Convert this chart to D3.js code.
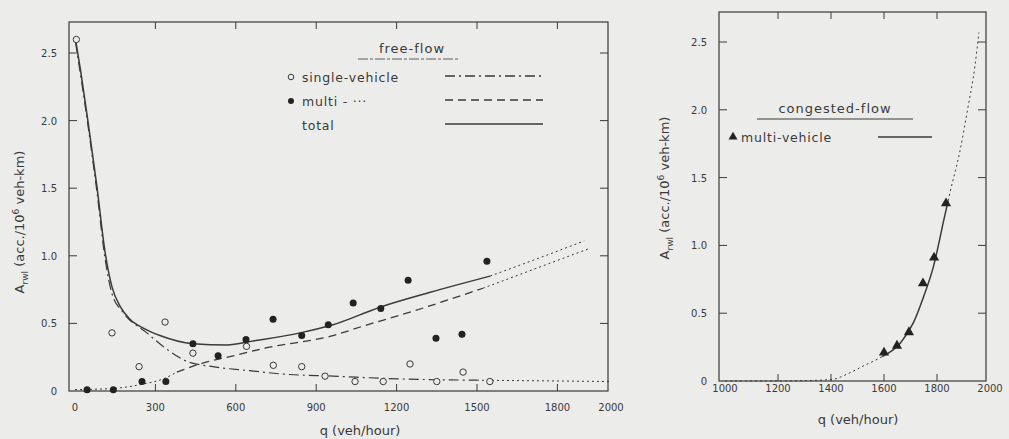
<!DOCTYPE html>
<html>
<head>
<meta charset="utf-8">
<script src="https://cdn.jsdelivr.net/npm/d3@7"></script>
<style>
  body { margin: 0; background: #ececea; }
  svg { display: block; }
  text { font-family: "DejaVu Sans", sans-serif; fill: #3a3a3a; }
</style>
</head>
<body>
<svg id="chart" width="1009" height="439"></svg>
<script>
// free-flow panel data (q in veh/hour, A in acc./10^6 veh-km)
const singleQ = [5, 138, 336, 239, 440, 640, 740, 846, 933, 1045, 1150, 1250, 1350, 1448, 1548];
const singleA = [2.60, 0.43, 0.51, 0.18, 0.28, 0.33, 0.19, 0.18, 0.11, 0.07, 0.07, 0.20, 0.07, 0.14, 0.07];
const multiQ = [45, 143, 250, 339, 440, 534, 638, 739, 846, 945, 1038, 1141, 1243, 1347, 1444, 1537];
const multiA = [0.01, 0.01, 0.07, 0.07, 0.35, 0.26, 0.38, 0.53, 0.41, 0.49, 0.65, 0.61, 0.82, 0.39, 0.42, 0.96];

// fitted curves (solid/dashed part, then dotted extrapolation)
const totalFitQ = [2, 20, 48, 82, 112, 138, 170, 205, 260, 317, 440, 567, 665, 840, 963, 1138, 1325, 1549];
const totalFitA = [2.60, 2.38, 2.00, 1.51, 1.03, 0.77, 0.62, 0.53, 0.46, 0.41, 0.35, 0.34, 0.37, 0.43, 0.49, 0.62, 0.73, 0.85];
const totalExtQ = [1549, 1700, 1900];
const totalExtA = [0.85, 0.96, 1.11];
const singleFitQ = [2, 48, 82, 112, 138, 180, 268, 342, 417, 515, 653, 777, 963, 1200, 1500];
const singleFitA = [2.58, 1.97, 1.47, 0.98, 0.72, 0.58, 0.43, 0.31, 0.22, 0.18, 0.15, 0.125, 0.11, 0.09, 0.08];
const singleExtQ = [1500, 2000];
const singleExtA = [0.08, 0.07];
const multiLowQ = [0, 150, 250, 330, 380];
const multiLowA = [0.01, 0.02, 0.05, 0.09, 0.14];
const multiFitQ = [380, 466, 590, 716, 963, 1075, 1261, 1522];
const multiFitA = [0.14, 0.20, 0.26, 0.32, 0.41, 0.48, 0.59, 0.76];
const multiExtQ = [1522, 1914];
const multiExtA = [0.76, 1.05];

// congested-flow panel data
const congQ = [1600, 1649, 1694, 1747, 1789, 1834];
const congA = [0.21, 0.26, 0.36, 0.72, 0.91, 1.31];
const congFitQ = [1593, 1662, 1711, 1749, 1786, 1826, 1842];
const congFitA = [0.18, 0.28, 0.43, 0.62, 0.84, 1.19, 1.33];
const congLowQ = [1000, 1200, 1400, 1460, 1521, 1574, 1593];
const congLowA = [0.0, 0.0, 0.01, 0.05, 0.11, 0.16, 0.18];
const congHighQ = [1842, 1849, 1887, 1917, 1943, 1958];
const congHighA = [1.33, 1.39, 1.70, 2.02, 2.32, 2.57];

// ticks
const leftXTicks = [0, 300, 600, 900, 1200, 1500, 1800, 2000];
const leftXLabels = ['0', '300', '600', '900', '1200', '1500', '1800', '2000'];
const rightXTicks = [1000, 1200, 1400, 1600, 1800, 2000];
const yTicks = [0, 0.5, 1.0, 1.5, 2.0, 2.5];
const yLabels = ['0', '0.5', '1.0', '1.5', '2.0', '2.5'];

const ink = '#3a3a3a';
const svg = d3.select('#chart');

function zip(qs, as) { return qs.map((q, i) => [q, as[i]]); }

function drawPanel(o) {
  const g = svg.append('g');
  const x = d3.scaleLinear().domain(o.xDomain).range(o.xRange);
  const y = d3.scaleLinear().domain([0, 2.5]).range(o.yRange);

  // frame
  g.append('rect')
    .attr('x', o.frame[0]).attr('y', o.frame[1])
    .attr('width', o.frame[2] - o.frame[0]).attr('height', o.frame[3] - o.frame[1])
    .attr('fill', 'none').attr('stroke', ink).attr('stroke-width', 1.2);

  // inward ticks on all four sides
  o.xTicks.forEach(t => {
    if (t === o.xDomain[0] || x(t) >= o.frame[2] - 2) return;
    g.append('line').attr('x1', x(t)).attr('x2', x(t))
      .attr('y1', o.frame[3]).attr('y2', o.frame[3] - 7).attr('stroke', ink);
    g.append('line').attr('x1', x(t)).attr('x2', x(t))
      .attr('y1', o.frame[1]).attr('y2', o.frame[1] + 7).attr('stroke', ink);
  });
  yTicks.forEach(t => {
    if (t === 0) return;
    g.append('line').attr('x1', o.frame[0]).attr('x2', o.frame[0] + 8)
      .attr('y1', y(t)).attr('y2', y(t)).attr('stroke', ink);
    g.append('line').attr('x1', o.frame[2]).attr('x2', o.frame[2] - 8)
      .attr('y1', y(t)).attr('y2', y(t)).attr('stroke', ink);
  });

  // tick labels
  g.selectAll('.xl').data(o.xTicks).enter().append('text')
    .attr('x', d => x(d)).attr('y', o.xLabelY)
    .attr('text-anchor', 'middle').attr('font-size', 10)
    .text((d, i) => o.xLabels[i]);
  g.selectAll('.yl').data(yTicks).enter().append('text')
    .attr('x', o.frame[0] - 12).attr('y', d => y(d) + 4)
    .attr('text-anchor', 'end').attr('font-size', 10)
    .text((d, i) => yLabels[i]);

  // axis titles
  g.append('text').attr('x', o.xTitle[0]).attr('y', o.xTitle[1])
    .attr('text-anchor', 'middle').attr('font-size', 13)
    .text('q (veh/hour)');
  const yt = g.append('text')
    .attr('transform', `translate(${o.yTitle[0]},${o.yTitle[1]}) rotate(-90)`)
    .attr('text-anchor', 'middle').attr('font-size', 13);
  yt.append('tspan').text('A');
  yt.append('tspan').attr('font-size', 9).attr('dy', 4).text('rwl');
  yt.append('tspan').attr('dy', -4).text(' (acc./10');
  yt.append('tspan').attr('font-size', 9).attr('dy', -5).text('6');
  yt.append('tspan').attr('dy', 5).text(' veh-km)');

  return { g, x, y };
}

function curve(p, pts, dash, width) {
  const line = d3.line().x(d => p.x(d[0])).y(d => p.y(d[1])).curve(d3.curveMonotoneX);
  p.g.append('path').attr('d', line(pts))
    .attr('fill', 'none').attr('stroke', ink)
    .attr('stroke-width', width || 1.4)
    .attr('stroke-dasharray', dash || null);
}

// ---- left panel: free-flow ----
const L = drawPanel({
  xDomain: [0, 2000], xRange: [75, 611],
  yRange: [391, 53],
  frame: [69, 22, 608, 391],
  xTicks: leftXTicks, xLabels: leftXLabels,
  xLabelY: 411, xTitle: [360, 435], yTitle: [24, 222]
});

curve(L, zip(singleFitQ, singleFitA), '10,4,2,4', 1.2);
curve(L, zip(singleExtQ, singleExtA), '2,3', 1);
curve(L, zip(multiLowQ, multiLowA), '2,3', 1);
curve(L, zip(multiFitQ, multiFitA), '8,5', 1.3);
curve(L, zip(multiExtQ, multiExtA), '2,3', 1);
curve(L, zip(totalFitQ, totalFitA), null, 1.5);
curve(L, zip(totalExtQ, totalExtA), '2,3', 1);

L.g.selectAll('.single').data(zip(singleQ, singleA)).enter().append('circle')
  .attr('cx', d => L.x(d[0])).attr('cy', d => L.y(d[1])).attr('r', 3.2)
  .attr('fill', '#ececea').attr('stroke', ink).attr('stroke-width', 1);
L.g.selectAll('.multi').data(zip(multiQ, multiA)).enter().append('circle')
  .attr('cx', d => L.x(d[0])).attr('cy', d => L.y(d[1])).attr('r', 3.5)
  .attr('fill', '#222');

// legend
L.g.append('text').attr('x', 412).attr('y', 53).attr('text-anchor', 'middle')
  .attr('font-size', 13).attr('letter-spacing', 1).text('free-flow');
L.g.append('line').attr('x1', 358).attr('x2', 460).attr('y1', 59).attr('y2', 59)
  .attr('stroke', ink).attr('stroke-width', 0.8).attr('stroke-dasharray', '10,2,3,2');
const legRows = [
  { y: 77, label: 'single-vehicle', dash: '10,4,2,4', marker: 'open' },
  { y: 101, label: 'multi  -   \u00b7\u00b7\u00b7', dash: '8,5', marker: 'filled' },
  { y: 125, label: 'total', dash: null, marker: null }
];
legRows.forEach(r => {
  if (r.marker === 'open') {
    L.g.append('circle').attr('cx', 291).attr('cy', r.y).attr('r', 2.8)
      .attr('fill', 'none').attr('stroke', ink);
  } else if (r.marker === 'filled') {
    L.g.append('circle').attr('cx', 291).attr('cy', r.y).attr('r', 3).attr('fill', '#222');
  }
  L.g.append('text').attr('x', 302).attr('y', r.y + 4.5).attr('font-size', 12.5)
    .attr('letter-spacing', 0.8).text(r.label);
  L.g.append('line').attr('x1', 445).attr('x2', 543).attr('y1', r.y - 1).attr('y2', r.y - 1)
    .attr('stroke', ink).attr('stroke-width', 1.3).attr('stroke-dasharray', r.dash);
});

// ---- right panel: congested-flow ----
const R = drawPanel({
  xDomain: [1000, 2000], xRange: [725, 990],
  yRange: [381, 42],
  frame: [719, 12, 986, 381],
  xTicks: rightXTicks, xLabels: rightXTicks.map(String),
  xLabelY: 392, xTitle: [858, 424], yTitle: [669, 188]
});

curve(R, zip(congLowQ, congLowA), '2,3', 1);
curve(R, zip(congFitQ, congFitA), null, 1.5);
curve(R, zip(congHighQ, congHighA), '2,3', 1);

const tri = d3.symbol().type(d3.symbolTriangle).size(45);
R.g.selectAll('.tri').data(zip(congQ, congA)).enter().append('path')
  .attr('d', tri)
  .attr('transform', d => `translate(${R.x(d[0])},${R.y(d[1])})`)
  .attr('fill', '#222');

R.g.append('text').attr('x', 835).attr('y', 113).attr('text-anchor', 'middle')
  .attr('font-size', 13).attr('letter-spacing', 1).text('congested-flow');
R.g.append('line').attr('x1', 757).attr('x2', 913).attr('y1', 119).attr('y2', 119)
  .attr('stroke', ink).attr('stroke-width', 1.2);
R.g.append('path').attr('d', d3.symbol().type(d3.symbolTriangle).size(35))
  .attr('transform', 'translate(733,137)').attr('fill', '#222');
R.g.append('text').attr('x', 741).attr('y', 141.5).attr('font-size', 12.5)
  .attr('letter-spacing', 0.8).text('multi-vehicle');
R.g.append('line').attr('x1', 878).attr('x2', 932).attr('y1', 137).attr('y2', 137)
  .attr('stroke', ink).attr('stroke-width', 1.3);
</script>
</body>
</html>
